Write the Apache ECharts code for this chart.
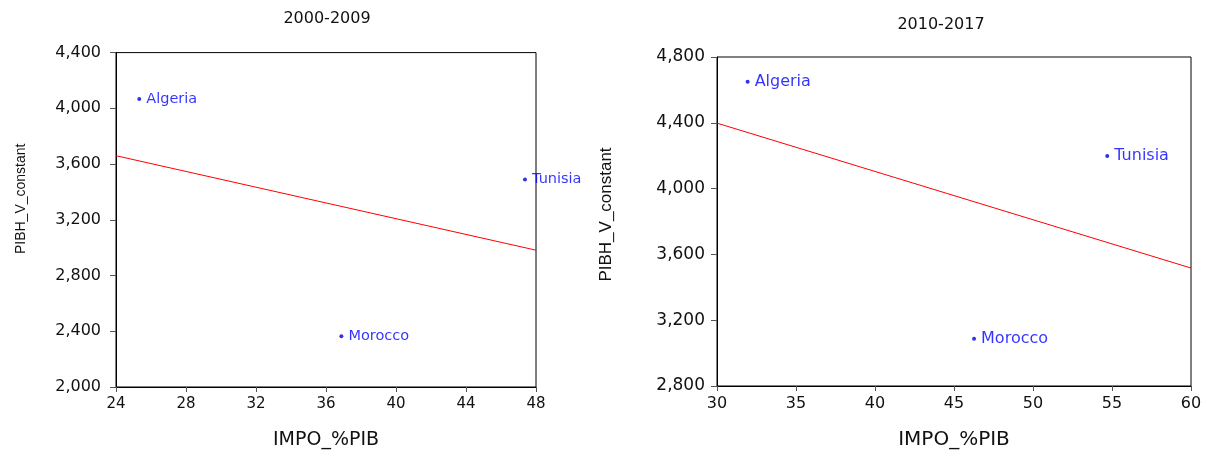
<!DOCTYPE html>
<html>
<head>
<meta charset="utf-8">
<script src="https://cdn.jsdelivr.net/npm/echarts@6/dist/echarts.min.js"></script>
<style>html,body{margin:0;padding:0;background:#fff;}#c{width:1213px;height:455px;}</style>
</head>
<body>
<div id="c"></div>
<script>
var countries = ['Algeria', 'Tunisia', 'Morocco'];
// Panel 1: 2000-2009
var impo1 = [25.33, 47.37, 36.88];
var pibh1 = [4067, 3490, 2365];
var fitX1 = [24, 48];
var fitY1 = [3660, 2982];
// Panel 2: 2010-2017
var impo2 = [31.94, 54.7, 46.27];
var pibh2 = [4650, 4198, 3087];
var fitX2 = [30, 60];
var fitY2 = [4398, 3517];
var titles = ['2000-2009', '2010-2017'];
var xName = 'IMPO_%PIB';
var yName = 'PIBH_V_constant';

var WIDE = 'DejaVu Sans, Verdana, sans-serif';
var FONT = 'Liberation Sans, Arial, sans-serif';
function pts(xs, ys) { return xs.map(function (x, i) { return [x, ys[i]]; }); }
function scatterData(xs, ys) {
  return xs.map(function (x, i) { return { value: [x, ys[i]], name: countries[i] }; });
}
function fmt(v) { return v.toLocaleString('en-US'); }

function xAxis(idx, min, max, interval, fs, nfs, gap) {
  return {
    type: 'value', gridIndex: idx, min: min, max: max, interval: interval,
    name: xName, nameLocation: 'middle', nameGap: gap,
    nameTextStyle: { fontFamily: WIDE, fontSize: nfs, color: '#111' },
    axisLine: { show: true, lineStyle: { color: '#000', width: 1 } },
    axisTick: { show: true, inside: false, length: 5, lineStyle: { color: '#555' } },
    axisLabel: { fontFamily: WIDE, fontSize: fs, color: '#111', margin: 10 },
    splitLine: { show: false }
  };
}
function yAxis(idx, min, max, interval, fs, margin, nfs, gap, pad) {
  return {
    type: 'value', gridIndex: idx, min: min, max: max, interval: interval,
    name: yName, nameLocation: 'middle', nameRotate: 90, nameGap: gap,
    nameTextStyle: { fontFamily: FONT, fontSize: nfs, color: '#111', padding: pad },
    axisLine: { show: true, lineStyle: { color: '#000', width: 1 } },
    axisTick: { show: true, inside: false, length: 6, lineStyle: { color: '#555' } },
    axisLabel: { fontFamily: WIDE, fontSize: fs, color: '#111', margin: margin, formatter: fmt },
    splitLine: { show: false }
  };
}
function scat(idx, xs, ys, fs) {
  return {
    type: 'scatter', xAxisIndex: idx, yAxisIndex: idx,
    data: scatterData(xs, ys), symbol: 'circle', symbolSize: 4,
    itemStyle: { color: '#0000dd' },
    label: { show: true, position: 'right', distance: 5, formatter: '{b}',
      fontFamily: WIDE, fontSize: fs, color: '#0000ff' },
    z: 3
  };
}
function fit(idx, xs, ys) {
  return {
    type: 'line', xAxisIndex: idx, yAxisIndex: idx, data: pts(xs, ys),
    symbol: 'none', lineStyle: { color: '#ff0000', width: 1 }, silent: true, z: 2
  };
}

var chart = echarts.init(document.getElementById('c'));
chart.setOption({
  backgroundColor: '#fff',
  animation: false,
  title: [
    { text: titles[0], left: 322, top: 6, textAlign: 'center',
      textStyle: { fontFamily: WIDE, fontSize: 16, fontWeight: 'normal', color: '#111' } },
    { text: titles[1], left: 936, top: 12, textAlign: 'center',
      textStyle: { fontFamily: WIDE, fontSize: 16, fontWeight: 'normal', color: '#111' } }
  ],
  grid: [
    { left: 116, right: 677, top: 52.6, bottom: 68, show: true, borderColor: '#000', borderWidth: 1 },
    { left: 717, right: 22, top: 57, bottom: 68, show: true, borderColor: '#000', borderWidth: 1 }
  ],
  xAxis: [xAxis(0, 24, 48, 4, 15, 19, 44), xAxis(1, 30, 60, 5, 16, 20, 44)],
  yAxis: [yAxis(0, 2000, 4400, 400, 16, 15, 14, 88, [0, 0, 0, 42]),
          yAxis(1, 2800, 4800, 400, 17, 12, 17, 102, [0, 0, 0, 14])],
  series: [fit(0, fitX1, fitY1), scat(0, impo1, pibh1, 14.5), fit(1, fitX2, fitY2), scat(1, impo2, pibh2, 16)]
});
</script>
</body>
</html>
